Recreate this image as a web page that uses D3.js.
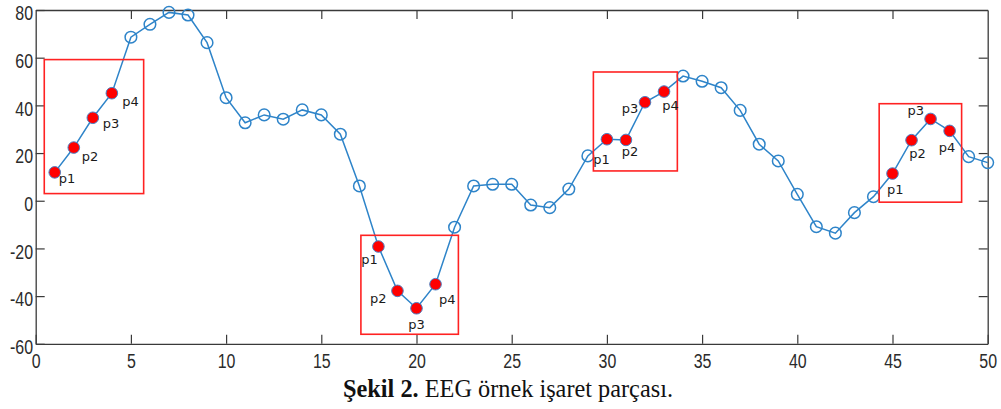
<!DOCTYPE html>
<html>
<head>
<meta charset="utf-8">
<script src="https://cdn.jsdelivr.net/npm/d3@7"></script>
<style>
  body { margin: 0; background: #fff; }
  svg { display: block; }
</style>
</head>
<body>
<div id="chart"></div>
<script>
// EEG sample values, one per sample index 1..50
const values = [11.9, 22.3, 34.8, 45.1, 68.6, 74, 79, 77.9, 66.3, 43.2,
                32.7, 36, 34.2, 38.1, 36, 27.9, 6.2, -19.2, -37.8, -45.1,
                -35, -11.1, 6.2, 6.9, 6.9, -1.8, -2.9, 4.9, 18.8, 25.8,
                25.5, 41.3, 45.8, 52.3, 50.1, 47.4, 37.9, 23.7, 16.7, 2.7,
                -10.9, -13.6, -5, 1.7, 11.4, 25.4, 34.3, 29.3, 18.5, 16];

// first sample of each highlighted group of four (p1..p4)
const segmentStarts = [1, 18, 30, 45];

// red frames round each group, in data units
const boxX = [[0.45, 5.67], [17.08, 22.2], [29.29, 33.7], [44.3, 48.63]];
const boxY = [[3.0, 59.2], [-56, -14.5], [12.5, 54], [-0.6, 40.7]];

const xTicks = [0, 5, 10, 15, 20, 25, 30, 35, 40, 45, 50];
const yTicks = [-60, -40, -20, 0, 20, 40, 60, 80];
const pointNames = ["p1", "p2", "p3", "p4"];
const caption = ["Şekil 2.", " EEG örnek işaret parçası."];

// where each p-label sits relative to its marker: [dx, dy, anchor]
const labelOffsets = [
  [[4, 10.4, "start"], [8, 13.3, "start"], [10, 10.7, "start"], [10.5, 12.7, "start"]],
  [[-0.7, 17.8, "end"], [-11, 11.7, "end"], [0, 21, "middle"], [3.5, 19.4, "start"]],
  [[-13.6, 24.4, "start"], [-4.3, 16, "start"], [-6.7, 10.4, "end"], [-1.7, 18.4, "start"]],
  [[2.8, 20, "middle"], [-2.2, 17.4, "start"], [-6.5, -3.6, "end"], [-2.5, 21, "middle"]]
];

const W = 1001, H = 409;
const plot = {left: 35.7, right: 987.7, top: 10, bottom: 343.8};
const lineColor = "#2e84c9";
const axisColor = "#3a3a3a";
const tickFont = "'Liberation Sans', Arial, sans-serif";
const tickSquash = 0.76;   // the original tick labels are condensed

const svg = d3.select("#chart").append("svg")
    .attr("width", W)
    .attr("height", H);

const x = d3.scaleLinear().domain([0, 50]).range([plot.left, plot.right]);
const y = d3.scaleLinear().domain([-60, 80]).range([plot.bottom, plot.top]);

const data = values.map((v, i) => ({sample: i + 1, value: v}));

// plain hyphen for negatives, like the original
const plainNumber = d => String(d);

// axes (box on, ticks pointing inward)
function styleAxis(g) {
  g.select(".domain").attr("stroke", axisColor).attr("stroke-width", 1.3);
  g.selectAll(".tick line").attr("stroke", axisColor).attr("stroke-width", 1.2);
  g.selectAll(".tick text")
    .attr("fill", "#2b2b2b")
    .attr("transform", `scale(${tickSquash},1)`)
    .style("font-family", tickFont)
    .style("font-size", "21px");
}

svg.append("g")
    .attr("transform", `translate(0,${plot.bottom})`)
    .call(d3.axisBottom(x).tickValues(xTicks).tickFormat(plainNumber)
      .tickSize(-9).tickPadding(9).tickSizeOuter(0))
    .call(styleAxis);

svg.append("g")
    .attr("transform", `translate(0,${plot.top})`)
    .call(d3.axisTop(x).tickValues(xTicks.slice(1, -1)).tickSize(-9).tickFormat("").tickSizeOuter(0))
    .call(styleAxis);

svg.append("g")
    .attr("transform", `translate(${plot.left},0)`)
    .call(d3.axisLeft(y).tickValues(yTicks).tickFormat(plainNumber)
      .tickSize(-9).tickPadding(3.5).tickSizeOuter(0))
    .call(styleAxis)
    .call(g => g.selectAll(".tick text").attr("dy", "0.46em"));

svg.append("g")
    .attr("transform", `translate(${plot.right},0)`)
    .call(d3.axisRight(y).tickValues(yTicks.slice(1, -1)).tickSize(-9).tickFormat("").tickSizeOuter(0))
    .call(styleAxis);

// the signal
const line = d3.line().x(d => x(d.sample)).y(d => y(d.value));

svg.append("path")
    .datum(data)
    .attr("fill", "none")
    .attr("stroke", lineColor)
    .attr("stroke-width", 1.5)
    .attr("d", line);

const highlighted = new Set();
segmentStarts.forEach(s => d3.range(4).forEach(k => highlighted.add(s + k)));

svg.selectAll("circle.marker")
    .data(data.filter(d => !highlighted.has(d.sample)))
    .join("circle")
    .attr("class", "marker")
    .attr("cx", d => x(d.sample))
    .attr("cy", d => y(d.value))
    .attr("r", 5.8)
    .attr("fill", "none")
    .attr("stroke", lineColor)
    .attr("stroke-width", 1.5);

// red frames
svg.selectAll("rect.frame")
    .data(boxX.map((bx, i) => ({bx: bx, by: boxY[i]})))
    .join("rect")
    .attr("class", "frame")
    .attr("x", d => x(d.bx[0]))
    .attr("y", d => y(d.by[1]))
    .attr("width", d => x(d.bx[1]) - x(d.bx[0]))
    .attr("height", d => y(d.by[0]) - y(d.by[1]))
    .attr("fill", "none")
    .attr("stroke", "#f22")
    .attr("stroke-width", 1.6);

// p1..p4 points and labels
const picked = [];
segmentStarts.forEach((s, si) => {
  pointNames.forEach((name, k) => {
    const d = data[s - 1 + k];
    picked.push({sample: d.sample, value: d.value, name: name, off: labelOffsets[si][k]});
  });
});

svg.selectAll("circle.picked")
    .data(picked)
    .join("circle")
    .attr("class", "picked")
    .attr("cx", d => x(d.sample))
    .attr("cy", d => y(d.value))
    .attr("r", 5.8)
    .attr("fill", "#f00")
    .attr("stroke", "#4a80c4")
    .attr("stroke-width", 1);

svg.selectAll("text.pname")
    .data(picked)
    .join("text")
    .attr("class", "pname")
    .attr("x", d => x(d.sample) + d.off[0])
    .attr("y", d => y(d.value) + d.off[1])
    .attr("text-anchor", d => d.off[2])
    .style("font-family", "'DejaVu Sans', sans-serif")
    .style("font-size", "13px")
    .attr("fill", "#1a1a1a")
    .text(d => d.name);

// caption, sized to the width it takes in the original
const cap = svg.append("text")
    .attr("x", 508)
    .attr("y", 396.5)
    .attr("text-anchor", "middle")
    .style("font-family", "'Liberation Serif', serif")
    .style("font-size", "22px")
    .attr("fill", "#111");

cap.append("tspan").attr("font-weight", "bold").text(caption[0]);
cap.append("tspan").text(caption[1]);

const capWidth = cap.node().getComputedTextLength();
cap.style("font-size", (22 * 330 / capWidth).toFixed(2) + "px");
</script>
</body>
</html>
